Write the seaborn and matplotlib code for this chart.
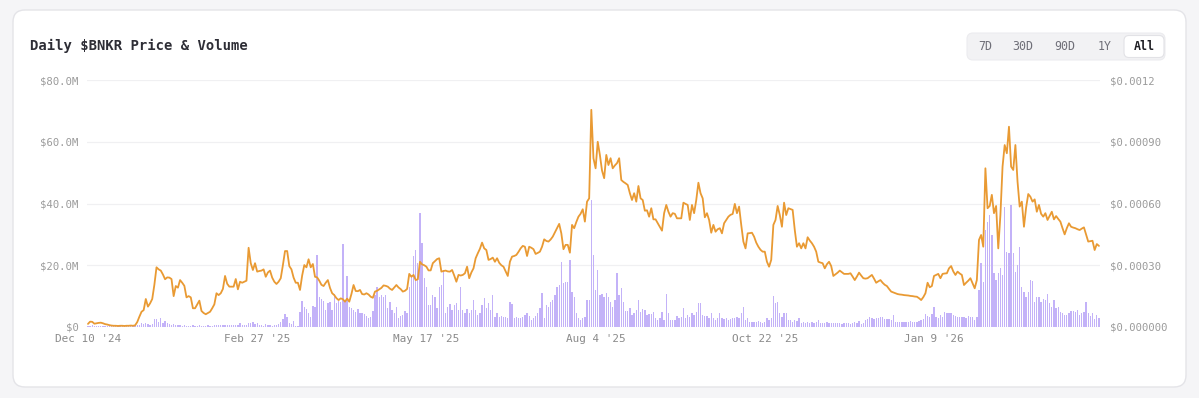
import numpy as np
import pandas as pd
import matplotlib
matplotlib.use("Agg")
import matplotlib.pyplot as plt
import seaborn as sns
from matplotlib.patches import FancyBboxPatch


START_DATE = "2024-12-10"

# daily price, in units of 1e-5 USD
price_dec_apr = [
    1.5, 2.6, 2.5, 1.6, 1.8, 2.0, 2.1, 1.8, 1.4, 1.2,
    0.9, 0.7, 0.6, 0.6, 0.5, 0.6, 0.6, 0.5, 0.6, 0.6,
    0.7, 0.6, 0.8, 2.4, 5.0, 7.4, 8.2, 13.6, 9.9, 11.5,
    13.6, 20.5, 29.0, 28.0, 27.4, 25.5, 23.2, 24.1, 24.0, 23.3,
    15.0, 19.9, 19.1, 22.8, 21.5, 20.0, 14.4, 15.0, 14.4, 9.1,
    9.1, 11.0, 12.8, 7.8, 6.8, 6.2, 6.8, 7.4, 9.1, 11.0,
    16.4, 15.5, 16.4, 18.5, 24.8, 21.0, 19.6, 19.6, 19.6, 23.3,
    18.3, 22.0, 21.5, 22.0, 22.5, 38.5, 31.0, 27.7, 31.0, 26.9,
    27.2, 27.4, 28.0, 24.4, 26.5, 27.4, 24.0, 22.0, 20.9, 22.0,
    23.7, 30.0, 36.9, 36.9, 29.6, 28.0, 24.0, 21.5, 21.5, 18.0,
    25.0, 30.1, 29.0, 32.9, 29.0, 30.6, 24.4, 24.1, 22.5, 20.5,
    19.9, 21.5, 22.8, 19.0, 16.4, 15.5, 14.0, 13.1,
]
price_apr_aug = [
    13.9, 13.5, 12.3, 13.8, 12.3, 16.0, 20.4, 17.5, 17.4, 18.0,
    16.0, 15.8, 16.4, 15.8, 14.7, 14.2, 17.2, 17.6, 18.3, 19.0,
    20.2, 20.0, 19.6, 18.6, 18.0, 19.2, 20.4, 19.2, 18.4, 17.2,
    17.6, 18.5, 25.8, 24.4, 25.3, 22.8, 23.2, 31.7, 30.4, 30.0,
    29.3, 27.5, 27.5, 31.0, 32.0, 33.0, 33.4, 26.9, 27.2, 27.4,
    27.0, 26.9, 27.7, 25.0, 22.0, 25.3, 25.0, 25.3, 26.1, 29.3,
    23.7, 26.5, 28.5, 33.4, 35.8, 38.0, 41.0, 38.2, 37.4, 32.6,
    33.0, 33.7, 31.7, 33.4, 31.2, 30.0, 29.3, 27.0, 24.8, 31.7,
    34.2, 34.5, 35.0, 36.5, 38.2, 39.4, 39.0, 34.5, 39.0, 38.5,
    37.8, 35.5, 36.0, 36.6, 39.0, 42.6, 41.8, 41.5, 42.5, 43.9,
    46.0, 48.0, 50.1, 45.5, 37.8, 39.9, 39.9, 36.1, 49.6, 48.0,
    51.0, 53.6, 55.0, 57.2, 51.2, 60.9, 62.5,
]
price_aug_nov = [
    105.5, 82.0, 77.1, 90.0, 83.6, 76.0, 72.3, 83.6, 78.7, 82.0,
    77.1, 78.5, 79.6, 82.0, 71.4, 70.5, 69.8, 69.0, 65.0, 61.7,
    65.0, 60.9, 68.5, 62.5, 61.7, 56.5, 56.7, 53.6, 57.7, 52.3,
    52.3, 50.5, 48.7, 46.8, 55.3, 59.3, 56.0, 53.6, 55.3, 55.0,
    52.8, 52.8, 52.8, 60.4, 59.8, 59.3, 52.0, 59.3, 55.3, 61.7,
    70.1, 65.0, 62.5, 53.3, 55.3, 52.0, 45.8, 49.6, 46.3, 47.5,
    48.0, 45.5, 50.4, 52.0, 53.6, 54.5, 54.9, 59.8, 55.3, 58.5,
    49.6, 41.5, 38.2, 45.5, 45.6, 45.8, 43.9, 41.0, 39.0, 37.5,
    36.6, 36.6, 31.7, 29.3, 32.6, 49.6, 52.0, 58.8, 54.4, 48.7,
    60.4, 54.4, 57.7, 57.3, 56.9, 47.1, 39.0, 40.7, 38.2, 40.7,
    38.2, 43.6, 42.0, 40.7, 39.0, 36.6, 31.7, 31.3, 31.0, 28.5,
    30.5, 31.7, 29.6, 24.8, 25.6, 26.4, 27.4, 26.6, 25.8, 25.8, 25.8,
]
price_dec_mar = [
    26.1, 24.5, 22.8, 24.5, 26.4, 25.0, 23.7, 23.5, 23.7, 24.5,
    25.3, 23.5, 21.5, 22.2, 22.8, 21.5, 20.5, 19.9, 18.5, 17.2,
    16.8, 16.4, 16.0, 15.8, 15.7, 15.5, 15.4, 15.3, 15.1, 15.0,
    14.8, 14.7, 14.0, 13.1, 14.5, 16.4, 21.5, 19.3, 19.9, 24.8,
    25.3, 25.8, 23.7, 25.8, 26.0, 26.1, 28.5, 29.6, 27.0, 25.3,
    26.9, 26.0, 25.3, 20.4, 21.5, 22.5, 23.7, 21.2, 18.8, 22.8,
    42.3, 44.7, 39.0, 77.1, 57.7, 58.8, 64.2, 55.3, 58.8, 38.2,
    54.4, 77.9, 88.4, 84.4, 97.3, 77.9, 76.3, 88.4, 70.6, 58.5,
    60.9, 48.7, 58.0, 64.6, 63.3, 60.9, 62.0, 56.0, 59.3, 55.0,
    53.6, 55.3, 52.0, 54.0, 56.0, 52.3, 53.9, 52.5, 51.2, 48.0,
    45.0, 48.0, 50.4, 48.7, 48.3, 48.0, 47.5, 47.1, 47.8, 48.4,
    45.0, 41.5, 41.7, 41.9, 37.4, 40.3, 39.4,
]

# daily volume, in $M
volume_dec_apr = [
    0.4, 0.3, 0.5, 0.3, 0.3, 0.4, 0.3, 0.2, 0.3, 0.3,
    0.2, 0.3, 0.2, 0.2, 0.3, 0.2, 0.2, 0.3, 0.2, 0.2,
    0.3, 0.3, 0.4, 0.6, 0.6, 1.2, 1.0, 1.4, 1.0, 0.6,
    1.0, 2.5, 2.5, 1.7, 2.8, 1.4, 1.8, 1.2, 1.0, 0.8,
    1.0, 0.8, 0.5, 0.5, 0.4, 0.8, 0.4, 0.3, 0.4, 0.5,
    0.3, 0.4, 0.8, 0.4, 0.3, 0.4, 0.5, 0.4, 0.3, 0.8,
    0.7, 0.8, 0.6, 0.8, 0.7, 0.6, 0.5, 0.6, 0.8, 0.6,
    0.5, 1.2, 0.6, 0.5, 0.8, 1.2, 1.4, 1.5, 1.0, 1.2,
    0.5, 0.8, 0.4, 1.0, 0.5, 0.6, 0.4, 0.8, 0.5, 1.0,
    1.7, 2.5, 4.1, 3.1, 1.4, 1.0, 2.1, 0.3, 0.3, 5.0,
    8.5, 6.6, 5.7, 4.4, 3.1, 6.8, 6.6, 23.3, 9.8, 9.2,
    8.5, 5.5, 7.9, 8.1, 5.5, 10.7, 7.7, 8.5,
]
volume_apr_aug = [
    8.0, 26.9, 8.2, 16.5, 6.6, 6.0, 5.5, 5.0, 5.7, 4.4,
    4.6, 4.1, 3.6, 2.8, 3.3, 5.3, 10.4, 13.1, 9.8, 10.4,
    9.8, 10.4, 6.0, 8.2, 5.5, 4.4, 6.6, 2.8, 3.6, 3.9,
    5.3, 4.4, 13.1, 16.8, 23.0, 24.9, 20.6, 36.8, 27.3, 15.8,
    13.1, 7.1, 7.1, 10.4, 9.8, 6.0, 13.1, 13.6, 18.5, 4.4,
    6.6, 7.5, 5.5, 7.1, 7.7, 5.5, 13.1, 5.5, 4.4, 5.7,
    4.4, 5.5, 8.7, 5.5, 3.9, 4.4, 7.1, 9.3, 6.0, 7.7, 5.5, 10.4,
    3.3, 4.6, 3.3, 3.6, 3.3, 3.3, 2.8, 8.2, 7.5, 2.8,
    3.3, 2.8, 2.8, 3.3, 3.9, 4.6, 3.6, 2.3, 2.8, 3.6,
    4.4, 6.0, 10.9, 2.8, 7.1, 6.6, 8.2, 8.7, 10.4, 13.1,
    13.6, 21.2, 14.1, 14.7, 14.7, 21.7, 11.4, 9.8, 4.4, 2.8,
    2.3, 2.8, 3.3, 8.7, 8.7,
]
volume_aug_nov = [
    41.0, 23.3, 12.0, 18.5, 10.4, 10.6, 9.8, 11.1, 9.8, 8.2,
    6.6, 8.7, 17.4, 10.4, 12.5, 8.2, 5.3, 5.3, 6.0, 3.9,
    4.4, 5.5, 8.7, 5.0, 5.7, 5.5, 3.9, 4.1, 4.1, 5.0,
    2.8, 2.3, 2.8, 5.0, 2.3, 10.7, 4.4, 2.3, 2.3, 2.3,
    3.6, 2.8, 3.3, 6.0, 2.8, 3.9, 3.3, 4.4, 3.9, 5.0,
    7.7, 7.9, 3.9, 3.6, 3.6, 2.8, 4.4, 2.8, 2.3, 2.8,
    4.4, 2.8, 2.5, 2.8, 2.3, 2.5, 2.8, 2.8, 3.3, 2.8,
    4.4, 6.4, 2.3, 2.8, 1.7, 1.7, 1.7, 1.7, 2.1, 1.7,
    1.4, 1.7, 2.8, 2.3, 2.8, 10.0, 7.7, 8.2, 4.6, 3.3,
    4.4, 4.6, 2.3, 2.3, 1.7, 2.3, 2.1, 2.8, 1.4, 1.7,
    1.4, 1.7, 1.4, 1.7, 1.4, 1.7, 2.3, 1.4, 1.2, 1.4,
    1.7, 1.4, 1.2, 1.4, 1.2, 1.4, 1.2, 1.0, 1.2, 1.2,
    1.4,
]
volume_dec_mar = [
    1.0, 1.2, 1.7, 1.2, 2.1, 1.0, 1.4, 2.3, 2.5, 3.1,
    2.8, 2.7, 2.8, 2.8, 3.1, 3.3, 2.7, 2.7, 2.5, 2.3,
    3.9, 1.7, 1.7, 1.6, 1.7, 1.7, 1.6, 1.7, 1.8, 1.7,
    1.7, 1.6, 1.8, 2.3, 2.5, 4.2, 3.6, 3.3, 4.2, 6.4,
    3.3, 2.8, 3.9, 3.3, 5.0, 4.6, 4.6, 4.4, 3.9, 3.6,
    3.1, 3.1, 3.1, 3.1, 2.8, 3.6, 3.1, 3.3, 2.3, 3.3,
    12.0, 20.6, 14.7, 31.4, 34.1, 36.3, 29.8, 17.4, 15.2, 17.4,
    19.0, 16.8, 39.0, 24.4, 23.9, 39.5, 23.9, 17.9, 20.1, 26.0,
    13.1, 11.4, 9.8, 11.4, 15.2, 15.0, 8.2, 9.8, 9.6, 8.2,
    9.0, 8.7, 10.7, 7.7, 6.6, 8.7, 6.0, 6.6, 5.0, 4.6,
    3.9, 3.9, 4.6, 5.3, 5.3, 5.0, 5.5, 3.9, 4.6, 5.0,
    8.2, 4.4, 3.6, 4.6, 2.5, 3.9, 2.8,
]

vol_ticks = [0, 20e6, 40e6, 60e6, 80e6]
vol_tick_labels = ["$0", "$20.0M", "$40.0M", "$60.0M", "$80.0M"]
price_ticks = [0, 0.0003, 0.0006, 0.0009, 0.0012]
price_tick_labels = ["$0.000000", "$0.00030", "$0.00060", "$0.00090", "$0.0012"]
range_buttons = ["7D", "30D", "90D", "1Y", "All"]
TICK_EVERY = 79

LINE_COLOR = "#e99a33"
BAR_COLOR = "#c3b2f8"
TEXT_GRAY = "#9b9b9b"


price = np.array(price_dec_apr + price_apr_aug + price_aug_nov + price_dec_mar) * 1e-5
volume = np.array(volume_dec_apr + volume_apr_aug + volume_aug_nov + volume_dec_mar) * 1e6
price_df = pd.DataFrame({"day": np.arange(len(price)), "price": price})
vol_df = pd.DataFrame({"day": np.arange(len(volume)), "volume": volume})
n_days = max(len(price), len(volume))
dates = pd.date_range(START_DATE, periods=n_days, freq="D")

sns.set_theme(style="white")
plt.rcParams["font.family"] = ["DejaVu Sans Mono", "DejaVu Sans"]

W, H = 1199, 398
fig = plt.figure(figsize=(W / 100, H / 100), dpi=100, facecolor="#f5f5f7")

# card background + header, drawn in pixel coords
bg = fig.add_axes([0, 0, 1, 1], zorder=-5)
bg.set_xlim(0, W); bg.set_ylim(H, 0); bg.axis("off")
bg.add_patch(FancyBboxPatch((13, 10), 1173, 377, boxstyle="round,pad=0,rounding_size=12",
                            facecolor="white", edgecolor="#e4e4e8", linewidth=1))
bg.text(30, 46, "Daily $BNKR Price & Volume", fontsize=10, color="#2e2e36",
        va="center", ha="left", fontweight="bold")
bg.add_patch(FancyBboxPatch((967, 33), 198, 27, boxstyle="round,pad=0,rounding_size=6",
                            facecolor="#f2f2f4", edgecolor="#ececef", linewidth=0.8))
bg.add_patch(FancyBboxPatch((1124, 35.5), 40, 22, boxstyle="round,pad=0,rounding_size=5",
                            facecolor="white", edgecolor="#e2e2e6", linewidth=0.8))
for label, bx in zip(range_buttons, [985, 1023, 1065, 1105, 1144]):
    is_active = label == "All"
    bg.text(bx, 46.5, label, fontsize=8.4, ha="center", va="center",
            color="#1f1f25" if is_active else "#6f6f78",
            fontweight="bold" if is_active else "normal")

# main chart
ax = fig.add_axes([86.9 / W, 1 - 327 / H, (1100 - 86.9) / W, (327 - 80) / H])
ax.set_facecolor("none")
sns.barplot(data=vol_df, x="day", y="volume", native_scale=True, color=BAR_COLOR,
            saturation=1, width=0.62, linewidth=0, ax=ax)
ax.set_ylim(0, 80e6)
ax.set_yticks(vol_ticks)
ax.set_yticklabels(vol_tick_labels)
ax.set_xlim(-0.5, n_days - 0.5)
tick_days = list(range(0, n_days, TICK_EVERY))
ax.set_xticks(tick_days)
ax.set_xticklabels([f"{dates[d]:%b} {dates[d].day} '{dates[d]:%y}" for d in tick_days])
ax.grid(axis="y", color="#f0f0f2", linewidth=0.9)
ax.grid(axis="x", visible=False)
ax.set_axisbelow(True)
ax.tick_params(axis="y", length=0, pad=6, labelsize=7.7, labelcolor=TEXT_GRAY)
ax.tick_params(axis="x", length=0, pad=5, labelsize=7.9, labelcolor="#8a8a8a")
ax.set_xlabel(""); ax.set_ylabel("")

ax2 = ax.twinx()
sns.lineplot(data=price_df, x="day", y="price", color=LINE_COLOR, linewidth=1.3, ax=ax2)
ax2.set_ylim(0, 0.0012)
ax2.set_yticks(price_ticks)
ax2.set_yticklabels(price_tick_labels)
ax2.tick_params(axis="y", length=0, pad=7, labelsize=7.7, labelcolor=TEXT_GRAY)
ax2.set_xlim(-0.5, n_days - 0.5)
ax2.set_xlabel(""); ax2.set_ylabel("")
ax2.grid(False)

for a in (ax, ax2):
    for s in a.spines.values():
        s.set_visible(False)

fig.savefig("out.png", dpi=100, facecolor=fig.get_facecolor())
